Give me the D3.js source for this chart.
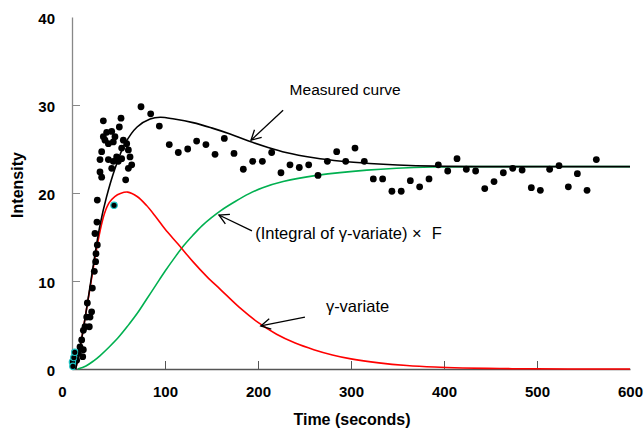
<!DOCTYPE html>
<html>
<head>
<meta charset="utf-8">
<script src="https://cdn.jsdelivr.net/npm/d3@7"></script>
<style>
  html, body { margin: 0; padding: 0; background: #fff; }
  svg { display: block; }
  text { font-family: "Liberation Sans", Arial, Helvetica, sans-serif; }
</style>
</head>
<body>
<svg id="chart" width="644" height="435"></svg>
<script>
// ---------------- DATA ----------------
const xTickValues = [0, 100, 200, 300, 400, 500, 600];
const yTickValues = [0, 10, 20, 30, 40];
const xTitle = "Time (seconds)";
const yTitle = "Intensity";

// Measured samples [time, intensity]
const measuredPoints = [
  [5,1.0],[6.8,1.8],[8.6,2.5],[10.4,3.3],[11.5,1.4],[12.2,2.2],[12.2,4.4],[14,4.8],
  [15.8,5.9],[16.5,7.5],[18.6,4.8],[19.4,5.9],[21.1,6.5],[21.9,9.2],[24,11.1],[25.4,12.2],
  [25.8,13.1],[27.2,14.1],[24.7,15.4],[26.8,16.7],[27.2,19.2],[30.1,22.4],[31.9,21.8],
  [30.1,23.8],[31.9,24.7],[33.7,26.4],[33.7,28.2],[35.5,26.0],[37.3,26.9],[39.1,25.6],
  [39.1,23.8],[42.7,27.0],[42.7,22.8],[44.4,25.8],[44.4,23.6],[46.2,26.4],[48,24.1],
  [49.8,23.6],[50.9,27.5],[52.7,28.5],[53.4,25.1],[53.4,23.9],[55.2,26.0],[57.7,21.5],
  [58.8,25.6],[60.6,24.9],[60.6,22.8],[62.4,24.1],[64.2,23.2],[74.2,29.8],[84.6,29.0],
  [93.9,27.6],[104.6,25.5],[114.3,24.6],[124.4,25.0],[134,25.9],[144,25.5],[153.8,24.4],
  [163.8,26.2],[174.2,24.5],[184.2,22.7],[194.3,23.6],[204.7,23.6],[214.7,24.6],
  [224.7,22.3],[234.4,23.2],[244.4,22.9],[254.5,23.2],[264.5,22.0],[274.6,23.6],
  [284.6,24.7],[294.3,23.6],[304.3,25.1],[314.3,23.6],[324,21.6],[334,21.6],[344,20.2],
  [354,20.2],[363.8,21.4],[373.8,20.7],[383.9,21.6],[393.9,23.2],[404,22.5],[414,23.9],
  [424,22.7],[434,22.5],[443.8,20.5],[453.8,21.3],[463.8,22.3],[473.9,22.8],[484,22.6],
  [493.9,20.6],[503.6,20.3],[513.6,22.7],[523.7,23.1],[533.7,20.7],[543.4,22.2],
  [553.8,20.3],[563.8,23.8]
];
// samples highlighted with a cyan rim
const cyanPoints = [[0.5,0.8],[1,0.3],[2,1.3],[3,1.9],[45.2,18.6]];

// fitted measured curve (black)
const measuredCurve = [
  [4,0],[10,3.2],[15,6.4],[20,9.8],[25,13.2],[30,16.3],[37,19.5],[46,22.7],[57,25.6],
  [70,27.5],[84,28.4],[95,28.6],[110,28.4],[130,28.0],[150,27.4],[170,26.7],[190,25.9],
  [210,25.2],[230,24.6],[260,24.0],[290,23.6],[320,23.35],[350,23.18],[390,23.05],
  [450,23.0],[520,23.0],[600,23.0]
];
// gamma-variate (red)
const gammaCurve = [
  [4,0],[10,3.2],[15,6.4],[20,9.6],[25,12.8],[30,15.6],[35,17.7],[40,18.9],[46,19.6],
  [52,19.95],[60,20.1],[70,19.6],[80,18.6],[90,17.3],[100,15.9],[114,14.2],[130,12.2],
  [145,10.5],[160,9.0],[180,7.0],[200,5.3],[220,3.95],[240,2.95],[260,2.2],[280,1.6],
  [300,1.15],[330,0.7],[360,0.4],[390,0.22],[420,0.12],[460,0.05],[500,0.02],[550,0.005],[600,0]
];
// integral of gamma-variate x F (green)
const integralCurve = [
  [6,0],[15,0.35],[23,0.9],[30,1.5],[40,2.5],[50,3.6],[60,4.9],[70,6.3],[80,7.9],
  [90,9.5],[100,11.1],[110,12.6],[120,14.0],[130,15.2],[140,16.3],[150,17.2],[160,18.0],
  [175,19.0],[190,19.9],[205,20.6],[227,21.3],[263,22.0],[317,22.6],[388,22.95],
  [450,23.0],[600,23.0]
];

// annotations: label parts, text anchor point, arrow tail, arrow tip (data units)
const annotations = [
  { label: ["Measured curve"], size: 15.5, text: [234, 31.8], tail: [227, 29.4], tip: [192.5, 26.0] },
  { label: ["(Integral of \u03b3-variate) \u00d7", "F"], size: 16.5, text: [197, 15.4], tail: [193.5, 15.7], tip: [158, 17.5] },
  { label: ["\u03b3-variate"], size: 16.5, text: [273, 7.1], tail: [250.5, 5.9], tip: [203, 4.9] }
];

// ---------------- CHART ----------------
const svg = d3.select("#chart");
const x = d3.scaleLinear().domain([0, 600]).range([72, 630]);
const y = d3.scaleLinear().domain([0, 40]).range([369, 17]);

// axes
const xAxis = svg.append("g").attr("transform", `translate(0,${y(0)})`)
  .call(d3.axisBottom(x).tickValues(xTickValues).tickSizeInner(-8).tickSizeOuter(0).tickPadding(17));
xAxis.select(".domain").attr("stroke", "#555").attr("stroke-width", 1.3);
xAxis.selectAll(".tick line").attr("stroke", "#555")
  .filter(d => d === 0 || d === 600).remove();
xAxis.selectAll(".tick text")
  .attr("font-size", 15).attr("font-weight", "bold").attr("fill", "#000")
  .attr("font-family", '"Liberation Sans", Arial, sans-serif')
  .attr("dx", d => d === 0 ? -10 : 0);

const yAxis = svg.append("g").attr("transform", `translate(${x(0)},0)`)
  .call(d3.axisLeft(y).tickValues(yTickValues).tickSizeInner(-8).tickSizeOuter(0).tickPadding(17));
yAxis.select(".domain").attr("stroke", "#888").attr("stroke-width", 1.3);
yAxis.selectAll(".tick line").attr("stroke", "#888")
  .filter(d => d === 0 || d === 40).remove();
yAxis.selectAll(".tick text")
  .attr("font-size", 15).attr("font-weight", "bold").attr("fill", "#000")
  .attr("font-family", '"Liberation Sans", Arial, sans-serif')
  .attr("dy", "0.45em");

// axis titles
svg.append("text").attr("x", 352).attr("y", 425).attr("text-anchor", "middle")
  .attr("font-size", 16).attr("font-weight", "bold").text(xTitle);
svg.append("text").attr("transform", "translate(23,185) rotate(-90)").attr("text-anchor", "middle")
  .attr("font-size", 16).attr("font-weight", "bold").text(yTitle);

// lines
const line = d3.line().x(d => x(d[0])).y(d => y(d[1])).curve(d3.curveCatmullRom.alpha(0.5));
svg.append("path").datum(integralCurve).attr("d", line)
  .attr("fill", "none").attr("stroke", "#00b050").attr("stroke-width", 1.6);
svg.append("path").datum(gammaCurve).attr("d", line)
  .attr("fill", "none").attr("stroke", "#ff0000").attr("stroke-width", 1.6);

// dots
svg.append("g").selectAll("circle").data(measuredPoints).join("circle")
  .attr("cx", d => x(d[0])).attr("cy", d => y(d[1])).attr("r", 3.4).attr("fill", "#000");
svg.append("g").selectAll("circle").data(cyanPoints).join("circle")
  .attr("cx", d => x(d[0])).attr("cy", d => y(d[1])).attr("r", 3.2)
  .attr("fill", "#000").attr("stroke", "#1cc4c4").attr("stroke-width", 1.2);

svg.append("path").datum(measuredCurve).attr("d", line)
  .attr("fill", "none").attr("stroke", "#000").attr("stroke-width", 1.6);

// annotations
const ag = svg.append("g");
annotations.forEach(a => {
  const x1 = x(a.tail[0]), y1 = y(a.tail[1]), x2 = x(a.tip[0]), y2 = y(a.tip[1]);
  ag.append("line").attr("x1", x1).attr("y1", y1).attr("x2", x2).attr("y2", y2)
    .attr("stroke", "#000").attr("stroke-width", 1.3);
  const ang = Math.atan2(y1 - y2, x1 - x2), L = 11, sp = 0.5;
  const p1 = [x2 + L * Math.cos(ang + sp), y2 + L * Math.sin(ang + sp)];
  const p2 = [x2 + L * Math.cos(ang - sp), y2 + L * Math.sin(ang - sp)];
  ag.append("path").attr("d", `M${p1[0]},${p1[1]}L${x2},${y2}L${p2[0]},${p2[1]}`)
    .attr("fill", "none").attr("stroke", "#000").attr("stroke-width", 1.3);
  const t = ag.append("text").attr("x", x(a.text[0])).attr("y", y(a.text[1])).attr("dy", "0.35em")
    .attr("font-size", a.size).attr("fill", "#000");
  a.label.forEach((part, i) => {
    t.append("tspan").attr("dx", i === 0 ? 0 : 10).text(part);
  });
});
</script>
</body>
</html>
